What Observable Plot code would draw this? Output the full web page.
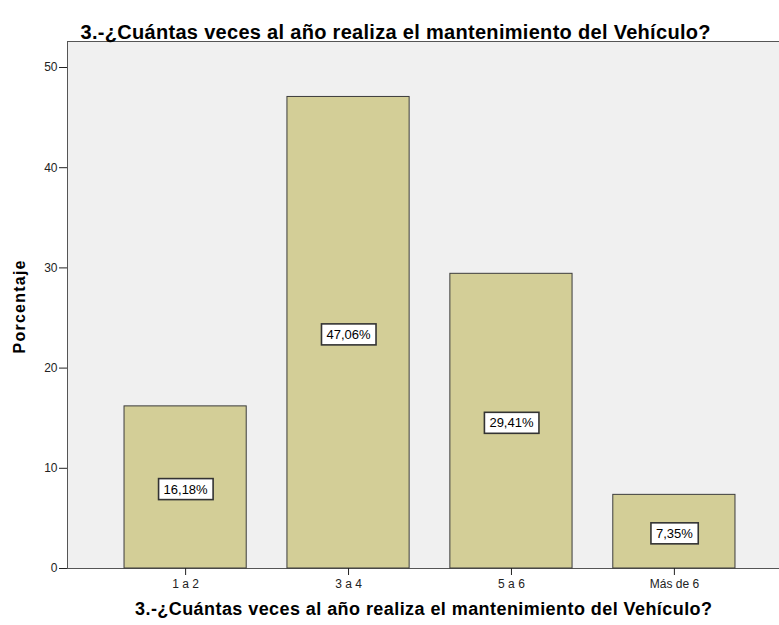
<!DOCTYPE html>
<html><head><meta charset="utf-8">
<script src="https://cdn.jsdelivr.net/npm/d3@7"></script>
<script src="https://cdn.jsdelivr.net/npm/@observablehq/plot@0.6"></script>
<style>
body{margin:0;background:#fff;}
svg{font-family:"Liberation Sans",Arial,sans-serif;}
</style>
</head><body><div id="chart"></div>
<script>
const categories = ["1 a 2", "3 a 4", "5 a 6", "Más de 6"];
const percentages = [16.18, 47.06, 29.41, 7.35];
const valueLabels = ["16,18%", "47,06%", "29,41%", "7,35%"];
const yTicks = [0, 10, 20, 30, 40, 50];
const titleText = "3.-¿Cuántas veces al año realiza el mantenimiento del Vehículo?";
const xTitle = "3.-¿Cuántas veces al año realiza el mantenimiento del Vehículo?";
const yTitle = "Porcentaje";

const data = categories.map((c, i) => ({category: c, value: percentages[i], label: valueLabels[i]}));

const W = 779, H = 625, mL = 67, mT = 41, mB = 57, mR = 0;
const pxPerUnit = 10.02;
const yMax = (H - mB - mT) / pxPerUnit;

const chart = Plot.plot({
  width: W, height: H,
  marginLeft: mL, marginRight: mR, marginTop: mT, marginBottom: mB,
  style: {fontFamily: "Liberation Sans, Arial, sans-serif", background: "#fff", overflow: "visible"},
  x: {type: "band", domain: categories, range: [67, 792], paddingInner: 0.25, paddingOuter: 0.35, round: false, label: null},
  y: {domain: [0, yMax], label: null},
  marks: [
    Plot.frame({fill: "#f0f0f0", stroke: "#555", insetRight: -3}),
    Plot.barY(data, {x: "category", y: "value", fill: "#d3ce97", stroke: "#3c3c3c", strokeWidth: 1}),
    Plot.axisY({ticks: yTicks, tickSize: 8, tickPadding: 2, fontSize: 12, label: null, color: "#222"}),
    Plot.axisX({tickSize: 7, tickPadding: 4, fontSize: 12, label: null, color: "#222"}),
    Plot.text(data, {x: "category", y: d => d.value / 2, text: "label", fontSize: 13, dy: 2, fill: "#000"}),
    Plot.text([yTitle], {frameAnchor: "left", textAnchor: "middle", rotate: -90, dx: -48, dy: 2, fontWeight: "bold", fontSize: 16, fill: "#000"}),
    Plot.text([xTitle], {frameAnchor: "bottom", textAnchor: "middle", dy: 46, fontWeight: "bold", fontSize: 18, fill: "#000"}),
    Plot.text([titleText], {frameAnchor: "top-left", textAnchor: "start", dx: 13, dy: -17, fontWeight: "bold", fontSize: 20, fill: "#000"})
  ]
});
document.getElementById("chart").appendChild(chart);

// stretch titles to reference widths
const marksG = chart.querySelectorAll("g[aria-label='text']");
const lens = new Map();
d3.select(chart).selectAll("text").each(function() {
  const t = this;
  const s = t.textContent;
  const g = t.parentNode;
  const anchor = g.getAttribute("text-anchor") || t.getAttribute("text-anchor");
  if (s === yTitle) { t.setAttribute("textLength", 93); t.setAttribute("lengthAdjust", "spacing"); }
  else if (s === titleText && anchor === "start") { t.setAttribute("textLength", 630); t.setAttribute("lengthAdjust", "spacing"); }
  else if (s === xTitle) { t.setAttribute("textLength", 577); t.setAttribute("lengthAdjust", "spacing"); }
});

// white boxes behind value labels
d3.select(chart).selectAll("text").each(function() {
  const t = this;
  if (!/%$/.test(t.textContent)) return;
  const b = t.getBBox();
  const r = document.createElementNS("http://www.w3.org/2000/svg", "rect");
  r.setAttribute("x", b.x - 5);
  r.setAttribute("y", b.y - 3);
  r.setAttribute("width", b.width + 10);
  r.setAttribute("height", b.height + 6);
  r.setAttribute("fill", "#fff");
  r.setAttribute("stroke", "#333");
  r.setAttribute("stroke-width", 1.6);
  if (t.getAttribute("transform")) r.setAttribute("transform", t.getAttribute("transform"));
  t.parentNode.insertBefore(r, t);
});
</script>
</body></html>
